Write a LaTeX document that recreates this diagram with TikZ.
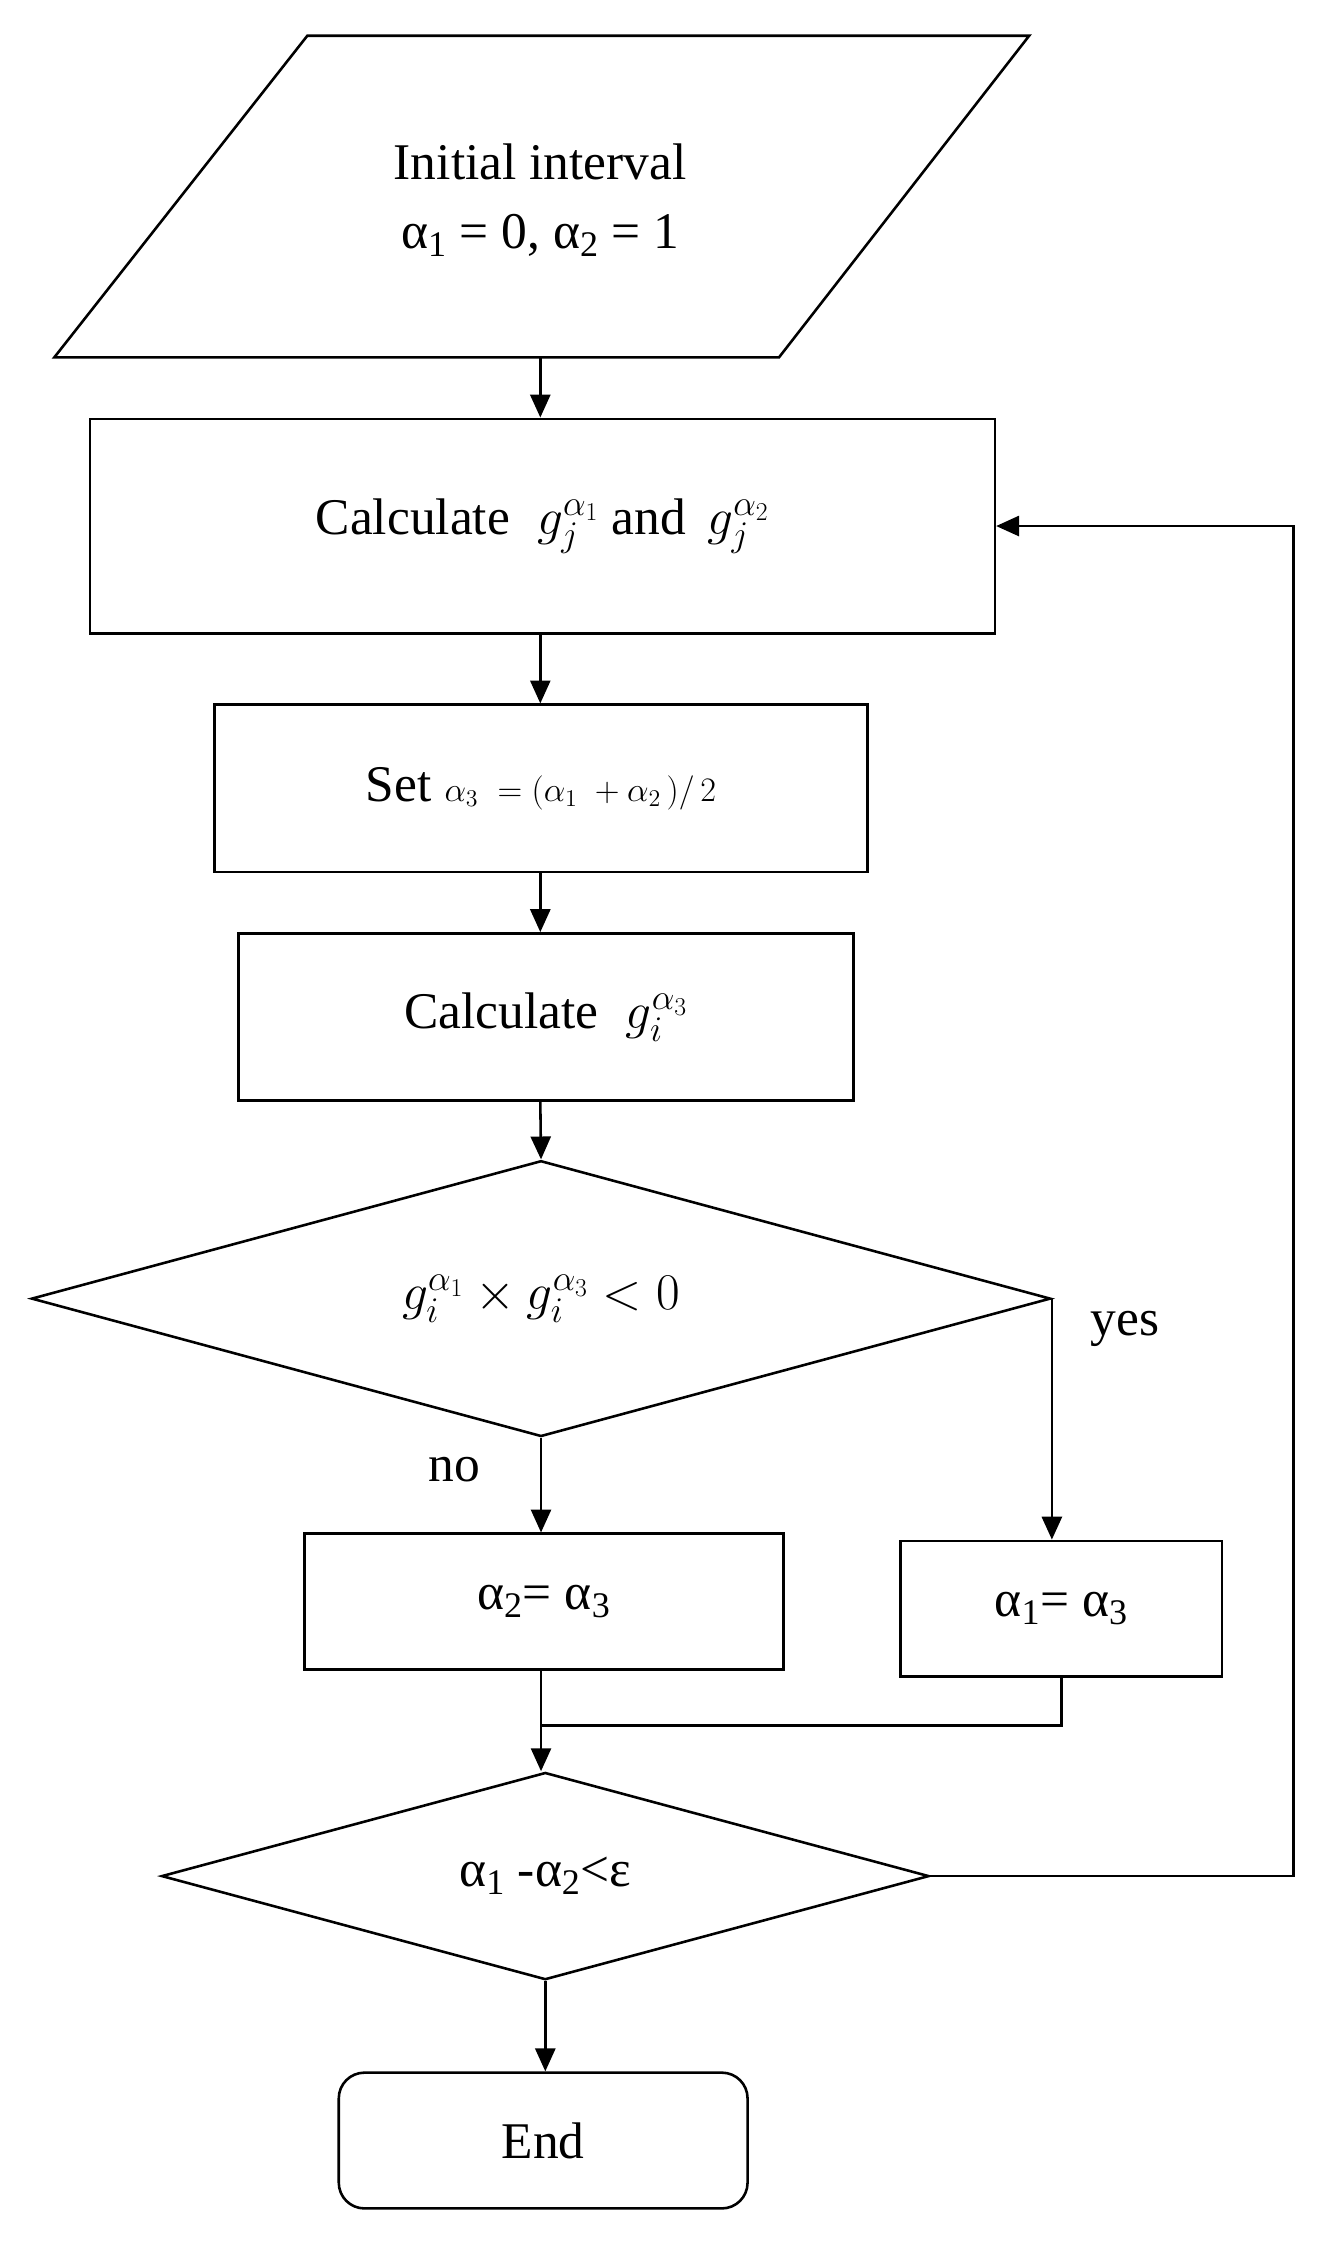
\RequirePackage{fix-cm}
\documentclass[tikz,border=0pt]{standalone}
\usepackage{fontspec}
\setmainfont{Liberation Serif}
\usetikzlibrary{shapes.geometric,arrows.meta}
\newcommand{\ssub}[1]{\textsubscript{#1}}
\begin{document}
\begin{tikzpicture}[x=1pt,y=-1pt,
  every node/.style={font=\fontsize{36}{44}\selectfont},
  box/.style={draw,line width=1.8pt,inner sep=0pt},
  dia/.style={draw,diamond,line width=1.8pt,inner sep=0pt,aspect=3.7},
  ln/.style={line width=1.8pt},
  arr/.style={ln,-{Triangle[length=16pt,width=14pt]}}]
\useasboundingbox (0,0) rectangle (935,1572);
% parallelogram
\draw[ln] (215,25) -- (720,25) -- (545,250) -- (38,250) -- cycle;
\node[align=center] (init) at (378,140) {Initial interval\\[4pt]α\ssub{1} = 0, α\ssub{2} = 1};
\coordinate (pb) at (378,250);
\node[box,minimum width=633pt,minimum height=150pt] (b1) at (379.5,368) {Calculate\; $g_j^{\alpha_1}$ and\, $g_j^{\alpha_2}$};
\node[box,minimum width=457pt,minimum height=117pt] (b2) at (378.5,551.5) {Set {\fontsize{24}{30}\selectfont$\alpha_3\;=(\alpha_1\;+\alpha_2\,)/\,2$}};
\node[box,minimum width=430pt,minimum height=117pt] (b3) at (382,711.5) {Calculate\; $g_i^{\alpha_3}$};
\node[dia,minimum width=713pt,minimum height=193pt] (d1) at (378.5,908.5) {$g_i^{\alpha_1}\times g_i^{\alpha_3}<0$};
\node[box,minimum width=335pt,minimum height=95pt] (b4) at (380.5,1120.5) {α\ssub{2}= α\ssub{3}};
\node[box,minimum width=225pt,minimum height=95pt] (b5) at (742.5,1125.5) {α\ssub{1}= α\ssub{3}};
\node[dia,minimum width=537pt,minimum height=145pt] (d2) at (381.5,1312.5) {α\ssub{1} -α\ssub{2}<ε};
\node[box,rounded corners=18pt,minimum width=286pt,minimum height=95pt] (end) at (380,1497.5) {End};
\node (yes) at (787,930) {yes};
\node (no) at (318,1028) {no};
\draw[arr] (pb) -- (b1.north -| pb);
\draw[arr] (b1.south -| pb) -- (b2.north -| pb);
\draw[arr] (b2.south -| pb) -- (b3.north -| pb);
\draw[arr] (b3.south -| pb) -- (d1.north);
\draw[arr] (d1.south) -- (b4.north -| d1.south);
\draw[arr] (d1.east) -- (d1.east |- b5.north);
\draw[arr] (b4.south -| d1.south) -- (d2.north -| d1.south);
\coordinate (j) at (378,1207);
\draw[ln] (b5.south) -- (b5.south |- j) -- (j);
\coordinate (r) at (905,1312.5);
\draw[arr] (d2.east) -- (r) -- (r |- b1.east) -- (b1.east);
\draw[arr] (d2.south) -- (end.north -| d2.south);
\end{tikzpicture}
\end{document}
